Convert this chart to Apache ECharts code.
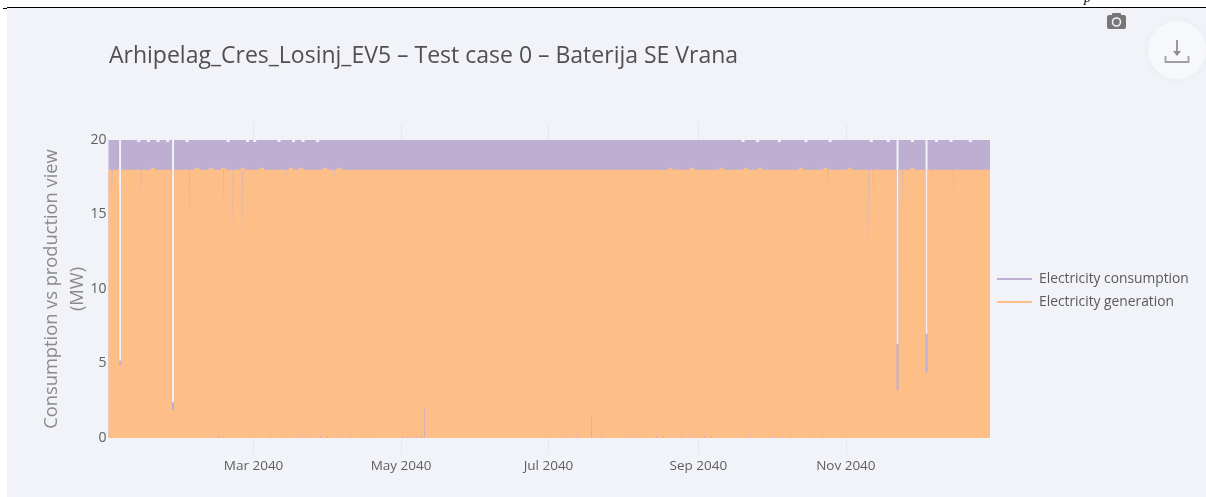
<!DOCTYPE html>
<html>
<head>
<meta charset="utf-8">
<style>html,body{margin:0;padding:0;background:#fff}#c{width:1206px;height:497px}</style>
<script src="https://cdn.jsdelivr.net/npm/echarts@6/dist/echarts.min.js"></script>
</head>
<body>
<div id="c"></div>
<script>
const titleText = 'Arhipelag_Cres_Losinj_EV5 – Test case 0 – Baterija SE Vrana';
const yAxisTitle = 'Consumption vs production view\n(MW)';
const seriesNames = ['Electricity consumption', 'Electricity generation'];
const xStart = '2040-01-01T00:00Z';
const xEnd = '2040-12-30T15:00Z';
const xTickDates = ['2040-03-01', '2040-05-01', '2040-07-01', '2040-09-01', '2040-11-01'];
const xTickLabels = ['Mar 2040', 'May 2040', 'Jul 2040', 'Sep 2040', 'Nov 2040'];

// usual levels (MW)
const consumptionLevel = 20;
const generationLevel = 18;

// outages: both series drop for about a day
const outageDates = ['2040-01-05T19:00Z', '2040-01-27T17:00Z', '2040-11-22T09:00Z', '2040-12-04T09:00Z'];
const outageGeneration = [4.9, 1.9, 3.2, 4.4];
const outageConsumption = [5.2, 2.4, 6.3, 7.0];

// very short drops of generation alone
const dipDates = ['2040-01-02', '2040-01-14', '2040-02-03', '2040-02-17', '2040-02-21', '2040-02-25',
  '2040-03-14', '2040-04-03', '2040-10-24', '2040-11-10', '2040-11-12', '2040-11-24', '2040-11-30', '2040-12-06', '2040-12-15'];
const dipValues = [16.1, 16.1, 13.7, 15.5, 13.4, 12.9, 17.3, 17.3, 16.5, 11.5, 15.8, 15.5, 17.4, 17.4, 16.2];

// short consumption readings while generation is zero
const spikeDates = ['2040-05-10', '2040-07-18'];
const spikeConsumption = [2.0, 1.4];

// tiny consumption readings at the foot of the chart
const footDates = ['2040-02-15', '2040-02-17', '2040-03-08', '2040-03-12', '2040-03-20', '2040-03-24', '2040-03-28', '2040-03-31',
  '2040-04-06', '2040-04-10', '2040-04-15', '2040-04-19', '2040-05-01', '2040-05-03', '2040-05-05', '2040-05-07', '2040-05-09',
  '2040-07-08', '2040-07-12', '2040-07-22', '2040-08-02', '2040-08-05', '2040-08-08', '2040-08-14', '2040-08-17', '2040-08-24',
  '2040-08-28', '2040-09-03', '2040-09-06', '2040-09-22', '2040-10-01', '2040-10-05', '2040-10-09', '2040-10-17', '2040-10-22'];
const footValue = 0.12;

// small notches along the top edge
const notchDates = ['2040-01-13', '2040-01-17', '2040-01-21', '2040-01-25', '2040-02-02', '2040-02-19', '2040-02-27', '2040-03-01',
  '2040-03-11', '2040-03-17', '2040-03-21', '2040-03-27', '2040-09-19', '2040-09-25', '2040-10-04', '2040-10-15', '2040-10-25',
  '2040-11-11', '2040-11-18', '2040-11-28', '2040-12-08', '2040-12-14', '2040-12-22'];
const notchValue = 19.86;

// small bumps along the 18 MW edge
const bumpDates = ['2040-01-19', '2040-02-06', '2040-02-12', '2040-02-17', '2040-02-25', '2040-03-04', '2040-03-16', '2040-03-20',
  '2040-03-30', '2040-04-05', '2040-08-20', '2040-08-29', '2040-09-10', '2040-09-20', '2040-09-26', '2040-10-13', '2040-10-23',
  '2040-11-02', '2040-11-28'];
const bumpValue = 18.14;

const HOUR = 3600000;
const ts = s => Date.parse(s.length === 10 ? s + 'T12:00Z' : s);
function buildSeries(level, events) {
  const sorted = events.slice().sort((a, b) => a.t - b.t);
  const pts = [[ts(xStart), level]];
  sorted.forEach(e => {
    const half = e.hours * HOUR / 2;
    pts.push([e.t - half, level], [e.t - half, e.v], [e.t + half, e.v], [e.t + half, level]);
  });
  pts.push([ts(xEnd), level]);
  return pts;
}
const ev = (dates, vals, hours) => dates.map((d, i) => ({t: ts(d), v: Array.isArray(vals) ? vals[i] : vals, hours}));
const consumptionData = buildSeries(consumptionLevel, [
  ...ev(outageDates, outageConsumption, 20),
  ...ev(notchDates, notchValue, 30)
]);
const generationData = buildSeries(generationLevel, [
  ...ev(outageDates, outageGeneration, 20),
  ...ev(dipDates, dipValues, 6),
  ...ev(bumpDates, bumpValue, 40)
]);
const shortReadings = [
  ...spikeDates.map((d, i) => [{coord: [ts(d), 0]}, {coord: [ts(d), spikeConsumption[i]]}]),
  ...footDates.map(d => [{coord: [ts(d), 0]}, {coord: [ts(d), footValue]}])
];

const purple = '#bdaed2', orange = '#fdbf87', bg = '#f1f3f8', gridCol = '#e6e8ee', font = '"Open Sans"';
const xTs = xTickDates.map(d => Date.parse(d + 'T00:00Z'));

const chart = echarts.init(document.getElementById('c'), null, {renderer: 'canvas'});
chart.setOption({
  animation: false,
  backgroundColor: '#ffffff',
  title: {
    text: titleText, left: 104, top: 40,
    textStyle: {fontFamily: font, fontSize: 23, fontWeight: 'normal', color: '#505050'}
  },
  legend: {
    orient: 'vertical', left: 992, top: 264, itemWidth: 35, itemHeight: 2, itemGap: 3, icon: 'rect',
    data: seriesNames,
    textStyle: {fontFamily: font, fontSize: 13.8, color: '#5a5a5a', padding: [0, 0, 0, 2], lineHeight: 20}
  },
  grid: {left: 108.5, right: 216, top: 140, bottom: 59},
  xAxis: [
    {
      type: 'value', min: ts(xStart), max: ts(xEnd), position: 'bottom',
      axisLine: {show: false}, splitLine: {show: false},
      axisTick: {show: true, length: 16, customValues: xTs, lineStyle: {color: gridCol}},
      axisLabel: {
        customValues: xTs, margin: 21, fontFamily: font, fontSize: 13.5, color: '#5f5f5f', hideOverlap: false,
        formatter: v => xTickLabels[xTs.indexOf(v)] || ''
      }
    },
    {
      type: 'value', min: ts(xStart), max: ts(xEnd), position: 'top',
      axisLine: {show: false}, splitLine: {show: false}, axisLabel: {show: false},
      axisTick: {show: true, length: 17, customValues: xTs, lineStyle: {color: gridCol}}
    }
  ],
  yAxis: {
    type: 'value', min: 0, max: 20, interval: 5,
    axisLine: {show: false}, axisTick: {show: false}, splitLine: {show: false},
    axisLabel: {fontFamily: font, fontSize: 14, color: '#5f5f5f', margin: 2},
    name: yAxisTitle, nameLocation: 'middle', nameGap: 18, nameRotate: 90, nameMoveOverlap: false,
    nameTextStyle: {fontFamily: font, fontSize: 18.3, color: '#8a8a8a', lineHeight: 26}
  },
  series: [
    {name: seriesNames[0], type: 'line', data: consumptionData, showSymbol: false, symbol: 'none', z: 2,
      itemStyle: {color: purple}, lineStyle: {width: 0}, areaStyle: {color: purple, opacity: 1},
      markLine: {silent: true, symbol: 'none', label: {show: false}, animation: false, z: 5,
        lineStyle: {color: '#b9a8d8', width: 1, type: 'solid', opacity: 0.6}, data: shortReadings}},
    {name: seriesNames[1], type: 'line', data: generationData, showSymbol: false, symbol: 'none', z: 3,
      itemStyle: {color: orange}, lineStyle: {width: 0}, areaStyle: {color: orange, opacity: 1}}
  ],
  graphic: [
    {type: 'rect', z: -10, silent: true, shape: {x: 7, y: 8, width: 1199, height: 489}, style: {fill: bg}},
    {type: 'text', z: 5, silent: true, x: 1084, y: -9, style: {text: 'p', font: 'italic 14px "Liberation Serif"', fill: '#000'}},
    {type: 'rect', z: 6, silent: true, shape: {x: 7, y: 7, width: 1199, height: 1}, style: {fill: '#000'}},
    {type: 'rect', z: 6, silent: true, shape: {x: 3, y: 8, width: 4, height: 1}, style: {fill: '#000'}},
    // camera
    {type: 'rect', z: 6, silent: true, shape: {x: 1107, y: 15, width: 19, height: 14, r: 2}, style: {fill: '#777'}},
    {type: 'rect', z: 6, silent: true, shape: {x: 1112, y: 13, width: 9, height: 3, r: 1}, style: {fill: '#777'}},
    {type: 'circle', z: 7, silent: true, shape: {cx: 1116.5, cy: 22, r: 4}, style: {fill: '#777', stroke: '#f1f3f8', lineWidth: 1.6}},
    // download button
    {type: 'circle', z: 6, silent: true, shape: {cx: 1177, cy: 50, r: 29},
      style: {fill: '#f7f8fb', shadowBlur: 8, shadowColor: 'rgba(0,0,0,0.04)'}},
    {type: 'polyline', z: 7, silent: true, shape: {points: [[1165.5, 56], [1165.5, 62], [1188.5, 62], [1188.5, 56]]},
      style: {fill: 'none', stroke: '#a0a0a0', lineWidth: 1.8}},
    {type: 'line', z: 7, silent: true, shape: {x1: 1177, y1: 40, x2: 1177, y2: 55}, style: {stroke: '#8f8f8f', lineWidth: 1.8}},
    {type: 'polygon', z: 7, silent: true, shape: {points: [[1173, 51], [1181, 51], [1177, 56]]}, style: {fill: '#8f8f8f'}}
  ]
});
</script>
</body>
</html>
